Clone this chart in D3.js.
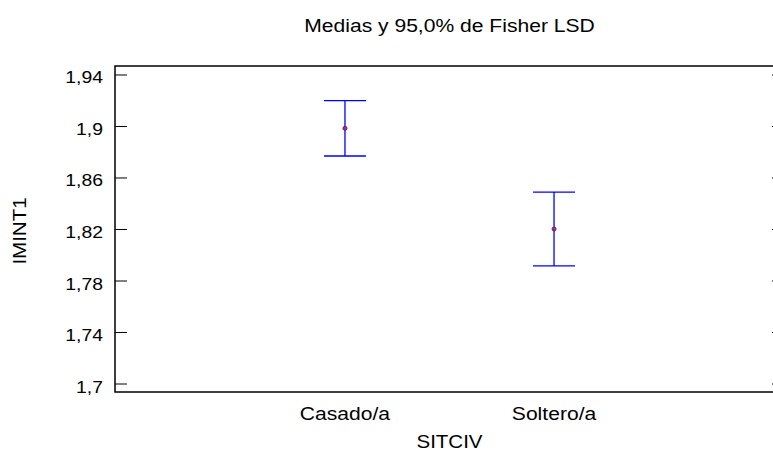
<!DOCTYPE html>
<meta charset="utf-8">
<style>
body { margin: 0; background: #fff; }
text { font-family: "Liberation Sans", Arial, sans-serif; fill: #000; }
</style>
<body>
<div id="chart"></div>
<script src="https://d3js.org/d3.v7.min.js"></script>
<script>
var categories = ["Casado/a", "Soltero/a"];
var means = [1.8982, 1.8200];
var lower = [1.8767, 1.7913];
var upper = [1.9197, 1.8487];
var yTicks = [1.7, 1.74, 1.78, 1.82, 1.86, 1.9, 1.94];

var width = 773, height = 452;
var margin = {top: 66, right: -11, bottom: 60, left: 115};
var w = width - margin.left - margin.right,
    h = height - margin.top - margin.bottom;
var stretch = "scale(1.14,1)"; // text in the source is a bit wide

var svg = d3.select("#chart").append("svg")
    .attr("width", width)
    .attr("height", height);

var g = svg.append("g")
    .attr("transform", "translate(" + margin.left + "," + margin.top + ")");

// categories sit at 1 and 2
var x = d3.scaleLinear().domain([-0.1, 3.1]).range([0, w]);
var y = d3.scaleLinear().domain([1.6934, 1.9466]).range([h, 0]);

var fmt = function(d) { return String(+d.toFixed(2)).replace(".", ","); };

// left axis, ticks pointing inward
var yl = g.append("g").attr("class", "yaxis")
    .call(d3.axisRight(y).tickValues(yTicks).tickSize(12).tickFormat(""));
yl.select(".domain").remove();
yl.selectAll(".tick line").attr("stroke", "#000");

g.selectAll(".ylab").data(yTicks).enter().append("text")
    .attr("class", "ylab")
    .attr("transform", function(d) { return "translate(-12," + (y(d) + 9) + ") " + stretch; })
    .attr("text-anchor", "end")
    .style("font-size", "17px")
    .text(fmt);

// right side ticks
var yr = g.append("g")
    .attr("transform", "translate(" + w + ",0)")
    .call(d3.axisLeft(y).tickValues(yTicks).tickSize(12).tickFormat(""));
yr.select(".domain").remove();
yr.selectAll(".tick line").attr("stroke", "#000");

// frame
g.append("rect")
    .attr("width", w)
    .attr("height", h)
    .attr("fill", "none")
    .attr("stroke", "#000")
    .attr("stroke-width", 1.5);

// category labels
g.selectAll(".xlab").data(categories).enter().append("text")
    .attr("class", "xlab")
    .attr("transform", function(d, i) { return "translate(" + x(i + 1) + "," + (h + 28) + ") " + stretch; })
    .attr("text-anchor", "middle")
    .style("font-size", "18.5px")
    .text(function(d) { return d; });

// error bars
var bars = g.selectAll(".bar").data(categories).enter().append("g").attr("class", "bar");
bars.append("line")
    .attr("x1", function(d, i) { return x(i + 1); })
    .attr("x2", function(d, i) { return x(i + 1); })
    .attr("y1", function(d, i) { return y(upper[i]); })
    .attr("y2", function(d, i) { return y(lower[i]); })
    .attr("stroke", "#0000ff").attr("stroke-width", 1.3);
[upper, lower].forEach(function(arr) {
  bars.append("line")
      .attr("x1", function(d, i) { return x(i + 1) - 21; })
      .attr("x2", function(d, i) { return x(i + 1) + 21; })
      .attr("y1", function(d, i) { return y(arr[i]); })
      .attr("y2", function(d, i) { return y(arr[i]); })
      .attr("stroke", "#0000ff").attr("stroke-width", 1.3);
});
bars.append("circle")
    .attr("cx", function(d, i) { return x(i + 1); })
    .attr("cy", function(d, i) { return y(means[i]); })
    .attr("r", 2)
    .attr("fill", "#5050c0")
    .attr("stroke", "#b00040")
    .attr("stroke-width", 1);

// titles
svg.append("text")
    .attr("transform", "translate(" + (margin.left + w / 2) + ",32) " + stretch)
    .attr("text-anchor", "middle")
    .style("font-size", "18.5px")
    .text("Medias y 95,0% de Fisher LSD");

svg.append("text")
    .attr("transform", "translate(" + (margin.left + w / 2) + ",448) " + stretch)
    .attr("text-anchor", "middle")
    .style("font-size", "18px")
    .text("SITCIV");

svg.append("text")
    .attr("transform", "translate(26,231) rotate(-90) " + stretch)
    .attr("text-anchor", "middle")
    .style("font-size", "18px")
    .text("IMINT1");
</script>
</body>
